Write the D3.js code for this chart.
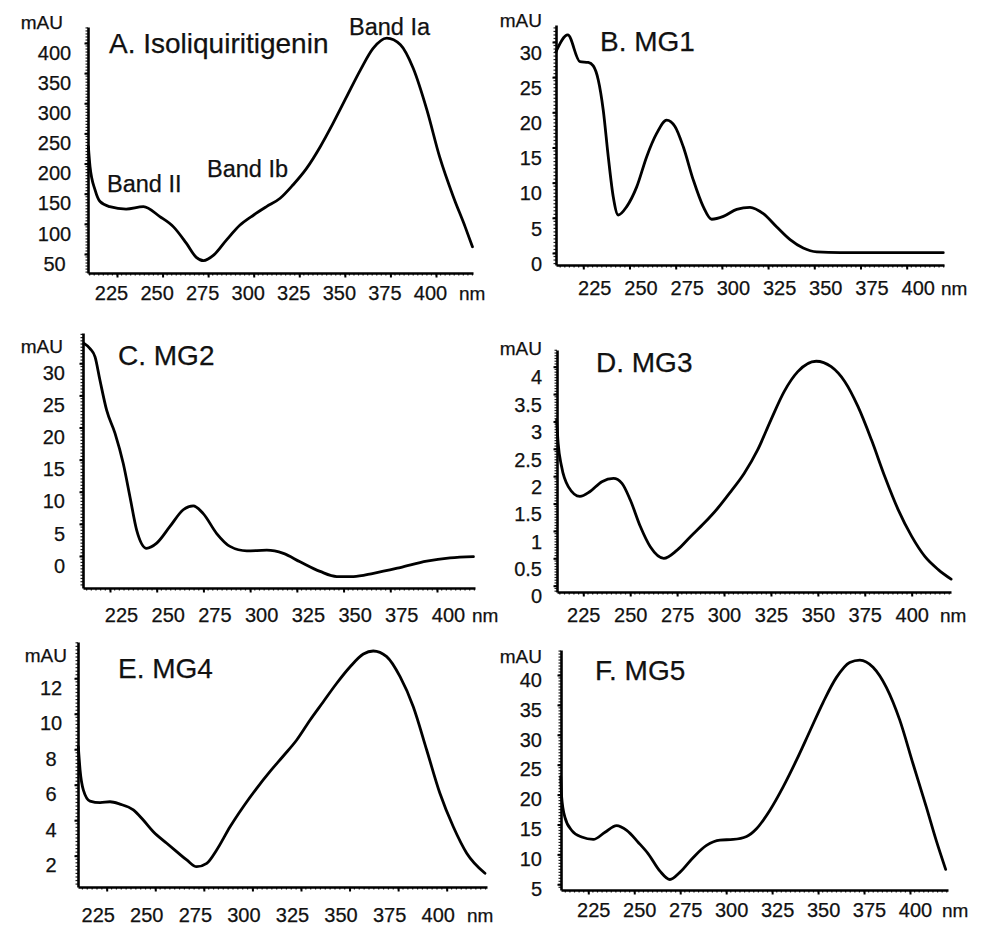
<!DOCTYPE html>
<html><head><meta charset="utf-8">
<script src="https://cdn.jsdelivr.net/npm/d3@7"></script>
<style>
body{margin:0;background:#fff}
svg{display:block}
text{font-family:"Liberation Sans",Arial,Helvetica,sans-serif;fill:#111;stroke:#111;stroke-width:0.25px}
</style>
</head><body>
<svg id="chart" width="984" height="935"></svg>
<script>
// ---------- data ----------
const xTicks = [225, 250, 275, 300, 325, 350, 375, 400];
const titles = ["A. Isoliquiritigenin", "B. MG1", "C. MG2", "D. MG3", "E. MG4", "F. MG5"];
const bandLabels = ["Band II", "Band Ib", "Band Ia"];
const yUnit = "mAU";
const xUnit = "nm";

const yTicksA = [50, 100, 150, 200, 250, 300, 350, 400];
const yTicksB = [0, 5, 10, 15, 20, 25, 30];
const yTicksC = [0, 5, 10, 15, 20, 25, 30];
const yTicksD = [0, 0.5, 1, 1.5, 2, 2.5, 3, 3.5, 4];
const yTicksE = [2, 4, 6, 8, 10, 12];
const yTicksF = [5, 10, 15, 20, 25, 30, 35, 40];

const nmA  = [209.3, 210.2, 213, 215.7, 221, 230, 239.5, 248.5, 256, 263, 268.5, 272.5, 278, 285, 292.5, 300, 307, 314.5, 321.5, 329, 336.5, 343.5, 351, 358.5, 365.5, 373, 380.5, 387.5, 395, 402, 409.5, 416, 420];
const absA = [228, 195, 156, 137, 128.5, 124.6, 128.5, 112, 95, 68, 44.5, 39, 48, 73, 98, 114.7, 128.5, 142.4, 164.4, 192, 228, 266.7, 311, 355, 391, 408, 397, 358, 289, 211, 145, 95, 62];

const nmB  = [210.2, 216.6, 223.2, 227.7, 230.4, 233.1, 235.8, 238.5, 241.2, 243.9, 248.5, 253.9, 259.3, 264.7, 270.1, 274.6, 279.1, 284.5, 289.9, 294.5, 300.8, 308, 315.2, 322.4, 329.7, 336.9, 344, 351.3, 364, 380, 400, 419.8];
const absB = [28.6, 31.0, 27.2, 27.1, 26.6, 24.6, 20.3, 13.7, 8.0, 5.4, 6.6, 9.4, 13.7, 17.0, 18.9, 18.0, 15.1, 10.4, 6.6, 4.8, 5.2, 6.2, 6.5, 5.6, 3.7, 1.9, 0.7, 0.15, 0.05, 0.05, 0.05, 0.05];

const nmC  = [211.1, 214.3, 217, 219.6, 223.2, 227.7, 232.1, 235.7, 239.3, 244.6, 250, 257.1, 264.2, 269.6, 274.9, 282.1, 289.2, 298.2, 308.9, 317.8, 326.7, 337.4, 346.4, 355.3, 366, 380.3, 394.5, 407, 419.5];
const absC = [33.1, 32.3, 31.0, 27.4, 22.7, 19.1, 14.4, 9.2, 4.0, 1.2, 2.0, 4.6, 7.2, 7.8, 6.6, 3.5, 1.5, 0.8, 0.9, 0.4, -0.9, -2.4, -3.2, -3.2, -2.7, -1.8, -0.8, -0.3, -0.1];

const nmD  = [210.8, 211.6, 213.4, 217, 223.2, 228.6, 234.9, 241.1, 245.6, 250, 255.4, 260.7, 267.9, 275, 282.2, 289.3, 296.5, 303.6, 310.7, 317.9, 325, 332.1, 339.3, 349.1, 357.1, 364.3, 371.4, 378.6, 385.7, 392.9, 400, 407.1, 414.3, 421];
const absD = [3.03, 2.6, 2.18, 1.81, 1.63, 1.72, 1.9, 1.96, 1.87, 1.57, 1.08, 0.71, 0.5, 0.65, 0.9, 1.14, 1.41, 1.72, 2.05, 2.48, 3.03, 3.55, 3.91, 4.1, 4.0, 3.73, 3.27, 2.66, 1.99, 1.38, 0.9, 0.53, 0.29, 0.12];

const nmE  = [210.4, 211.3, 213, 216.4, 221.6, 226.7, 231.8, 238.7, 243.8, 249, 255.9, 261, 266.2, 271.3, 276.5, 281.6, 288.5, 295.3, 302.2, 309.1, 315.9, 322.8, 329.7, 336.5, 343.4, 350.3, 357.1, 362.2, 369.1, 376, 382.8, 389.7, 396.5, 403.4, 410.3, 419.7];
const absE = [8.14, 6.83, 5.7, 5.08, 4.99, 5.04, 4.91, 4.58, 4.01, 3.35, 2.7, 2.23, 1.76, 1.38, 1.57, 2.32, 3.63, 4.76, 5.8, 6.75, 7.62, 8.52, 9.65, 10.68, 11.72, 12.65, 13.37, 13.54, 13.22, 12.09, 10.4, 7.96, 5.52, 3.63, 2.14, 1.01];

const nmF  = [210, 210.5, 212.3, 216, 221.4, 227.7, 234.1, 240.4, 245.9, 252.2, 257.6, 264, 269.4, 274.8, 282.1, 289.3, 296.6, 303.8, 311.1, 316.5, 323.8, 331, 338.3, 345.5, 352.7, 360, 367.2, 372.7, 379.9, 387.2, 394.4, 401.6, 408.9, 414.3, 419.4];
const absF = [23.0, 19.6, 16.2, 14.0, 12.9, 12.5, 13.7, 14.8, 14.0, 12.0, 10.1, 7.2, 5.8, 7.0, 9.5, 11.5, 12.4, 12.5, 13.0, 14.3, 17.4, 21.3, 25.8, 30.6, 35.4, 39.6, 42.1, 42.5, 41.3, 37.9, 32.5, 25.2, 17.9, 12.3, 7.5];

// ---------- layout (pixel positions only) ----------
const layouts = [
  {L:88,  R:473, T:27,  B:273, xp:[117,436],     yv:[50,400], yp:[254,43],      yLabX:54.5, yAnchor:"middle", yDy:9,  xDx:-6, xBase:300, mau:[63,29],  nm:[459,300], title:[109,53]},
  {L:556, R:944, T:25,  B:265, xp:[583.3,906.7], yv:[0,30],   yp:[253,42],      yLabX:542,  yAnchor:"end",    yDy:10, xDx:11, xBase:295, mau:[542,27], nm:[941,295], title:[600,51]},
  {L:83,  R:475, T:333, B:588, xp:[110,437],     yv:[0,30],   yp:[556,363.3],   yLabX:65,   yAnchor:"end",    yDy:9,  xDx:11, xBase:622, mau:[63,353], nm:[472,622], title:[118,365]},
  {L:557, R:951, T:350, B:592, xp:[583.3,911.7], yv:[0,4],    yp:[585.7,366.7], yLabX:542,  yAnchor:"end",    yDy:10, xDx:0,  xBase:622, mau:[542,355],nm:[940,622], title:[596,372]},
  {L:78,  R:487, T:642, B:887, xp:[106.7,446.7], yv:[2,12],   yp:[855.7,678.3], yLabX:51,   yAnchor:"middle", yDy:9,  xDx:-9, xBase:922, mau:[67,662], nm:[467,922], title:[118,678]},
  {L:561, R:948, T:650, B:890, xp:[588.3,910],   yv:[5,40],   yp:[884.3,675],   yLabX:542,  yAnchor:"end",    yDy:4,  xDx:5,  xBase:917, mau:[542,663],nm:[942,917], title:[595,680]}
];
const bandPos = [[107,192],[207,177],[349,35]];

const series = [
  {nm:nmA, ab:absA, yt:yTicksA},
  {nm:nmB, ab:absB, yt:yTicksB},
  {nm:nmC, ab:absC, yt:yTicksC},
  {nm:nmD, ab:absD, yt:yTicksD},
  {nm:nmE, ab:absE, yt:yTicksE},
  {nm:nmF, ab:absF, yt:yTicksF}
];

const svg = d3.select("#chart");
const FS_TICK = "20px", FS_UNIT = "19px", FS_TITLE = "28px", FS_BAND = "23.5px";

series.forEach((s, i) => {
  const P = layouts[i];
  const xs0 = d3.scaleLinear().domain([225, 400]).range(P.xp);
  const x = d3.scaleLinear().domain([xs0.invert(P.L), xs0.invert(P.R)]).range([P.L, P.R]);
  const ys0 = d3.scaleLinear().domain(P.yv).range(P.yp);
  const y = d3.scaleLinear().domain([ys0.invert(P.B), ys0.invert(P.T)]).range([P.B, P.T]);
  const g = svg.append("g");

  // minor ticks
  const xd = x.domain();
  const xMinor = d3.range(Math.ceil(xd[0] / 2.5) * 2.5, xd[1], 2.5);
  g.append("g").selectAll("line").data(xMinor).join("line")
    .attr("x1", d => x(d)).attr("x2", d => x(d))
    .attr("y1", P.B).attr("y2", P.B + 2.5)
    .attr("stroke", "#222").attr("stroke-width", 1.2);
  const yStep = (s.yt[1] - s.yt[0]) / 10;
  const yd = y.domain();
  const yMinor = d3.range(Math.ceil(yd[0] / yStep) * yStep, yd[1], yStep);
  g.append("g").selectAll("line").data(yMinor).join("line")
    .attr("y1", d => y(d)).attr("y2", d => y(d))
    .attr("x1", P.L).attr("x2", P.L - 2.5)
    .attr("stroke", "#222").attr("stroke-width", 1.2);

  // x axis
  const xa = g.append("g").attr("transform", `translate(0,${P.B})`)
    .call(d3.axisBottom(x).tickValues(xTicks).tickSize(4.5).tickSizeOuter(0).tickFormat(d => String(d)));
  xa.attr("font-size", null).attr("font-family", null);
  xa.select(".domain").attr("stroke", "#000").attr("stroke-width", 2.6);
  xa.selectAll(".tick line").attr("stroke", "#000").attr("stroke-width", 2);
  xa.selectAll(".tick text").attr("y", P.xBase - P.B).attr("dy", null).attr("x", P.xDx)
    .style("font-size", FS_TICK).attr("fill", "#111");

  // y axis
  const ya = g.append("g").attr("transform", `translate(${P.L},0)`)
    .call(d3.axisLeft(y).tickValues(s.yt).tickSize(3.5).tickSizeOuter(0).tickFormat(d => String(d)));
  ya.attr("font-size", null).attr("font-family", null);
  ya.select(".domain").attr("stroke", "#000").attr("stroke-width", 2.6);
  ya.selectAll(".tick line").attr("stroke", "#000").attr("stroke-width", 2);
  ya.selectAll(".tick text").attr("x", P.yLabX - P.L).attr("y", P.yDy).attr("dy", "0.36em")
    .attr("text-anchor", P.yAnchor).style("font-size", FS_TICK).attr("fill", "#111");

  // curve
  const line = d3.line().x(d => x(d[0])).y(d => y(d[1])).curve(d3.curveMonotoneX);
  g.append("path").datum(d3.zip(s.nm, s.ab)).attr("d", line)
    .attr("fill", "none").attr("stroke", "#000").attr("stroke-width", 2.8)
    .attr("stroke-linejoin", "round").attr("stroke-linecap", "round");

  // texts
  g.append("text").attr("x", P.mau[0]).attr("y", P.mau[1]).attr("text-anchor", "end")
    .style("font-size", FS_UNIT).text(yUnit);
  g.append("text").attr("x", P.nm[0]).attr("y", P.nm[1])
    .style("font-size", FS_UNIT).text(xUnit);
  g.append("text").attr("x", P.title[0]).attr("y", P.title[1])
    .style("font-size", FS_TITLE).text(titles[i]);

  if (i === 0) {
    bandLabels.forEach((b, k) => {
      g.append("text").attr("x", bandPos[k][0]).attr("y", bandPos[k][1])
        .style("font-size", FS_BAND).text(b);
    });
  }
});
</script>
</body></html>
